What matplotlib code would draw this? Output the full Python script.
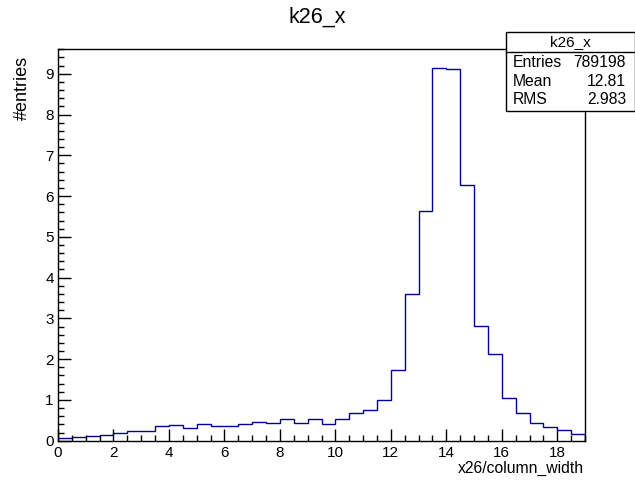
import matplotlib
matplotlib.use("Agg")
import matplotlib.pyplot as plt
from matplotlib.ticker import MultipleLocator
import numpy as np

plt.rcParams['font.family'] = ['Liberation Sans', 'DejaVu Sans']

bin_low = 0.0
bin_width = 0.5
counts = [0.06, 0.09, 0.115, 0.15, 0.20, 0.25, 0.25, 0.35, 0.38, 0.32,
          0.41, 0.37, 0.37, 0.40, 0.45, 0.43, 0.52, 0.43, 0.52, 0.40,
          0.54, 0.68, 0.745, 1.00, 1.73, 3.61, 5.64, 9.15, 9.12, 6.27,
          2.82, 2.12, 1.05, 0.68, 0.44, 0.34, 0.26, 0.165]
title = "k26_x"
stats_labels = ["Entries", "Mean", "RMS"]
stats_values = ["789198", "12.81", "2.983"]
xlabel = "x26/column_width"
ylabel = "#entries"

edges = bin_low + bin_width * np.arange(len(counts) + 1)

fig = plt.figure(figsize=(6.35, 4.8), dpi=100)
ax = fig.add_axes([58/635, 1-440.7/480, (585-58)/635, (440.7-49)/480])
ax.stairs(counts, edges, color='#000099', linewidth=1.0)
ax.set_xlim(edges[0], edges[-1])
ax.set_ylim(0, max(counts) * 1.05)

ax.xaxis.set_major_locator(MultipleLocator(2))
ax.xaxis.set_minor_locator(MultipleLocator(0.5))
ax.yaxis.set_major_locator(MultipleLocator(1))
ax.yaxis.set_minor_locator(MultipleLocator(0.2))
ax.tick_params(which='both', direction='in', top=False, right=False, labelsize=11)
ax.tick_params(which='major', length=9, width=1)
ax.tick_params(which='minor', length=4.5, width=1)
ax.tick_params(axis='y', pad=3)
ax.tick_params(axis='x', pad=3.5)
for s in ax.spines.values():
    s.set_linewidth(1.0)

fig.text(0.5, 1-17/480, title, ha='center', va='center', fontsize=15.5)
fig.text(584/635, 1-468/480, xlabel, ha='right', va='center', fontsize=11.3)
fig.text(22/635, 1-56/480, ylabel, ha='center', va='top', rotation=90, fontsize=13)

# stats box
bx0, bx1 = 505.7/635, 1.0
by0, by1 = 1-110.7/480, 1-31.7/480
sep = 1-52/480
fig.add_artist(plt.Rectangle((bx0, by0), bx1-bx0, by1-by0, transform=fig.transFigure,
                             facecolor='white', edgecolor='black', linewidth=1.0, zorder=5))
fig.add_artist(plt.Line2D([bx0, bx1], [sep, sep], transform=fig.transFigure,
                          color='black', linewidth=1.0, zorder=6))
fig.text(570/635, 1-42/480, title, ha='center', va='center', fontsize=11, zorder=7)
rows_y = [62.3, 82, 100]
for lab, val, yy in zip(stats_labels, stats_values, rows_y):
    fig.text(513/635, 1-yy/480, lab, ha='left', va='center', fontsize=11.3, zorder=7)
    fig.text(626/635, 1-yy/480, val, ha='right', va='center', fontsize=11.3, zorder=7)

fig.savefig("out.png", dpi=100)
